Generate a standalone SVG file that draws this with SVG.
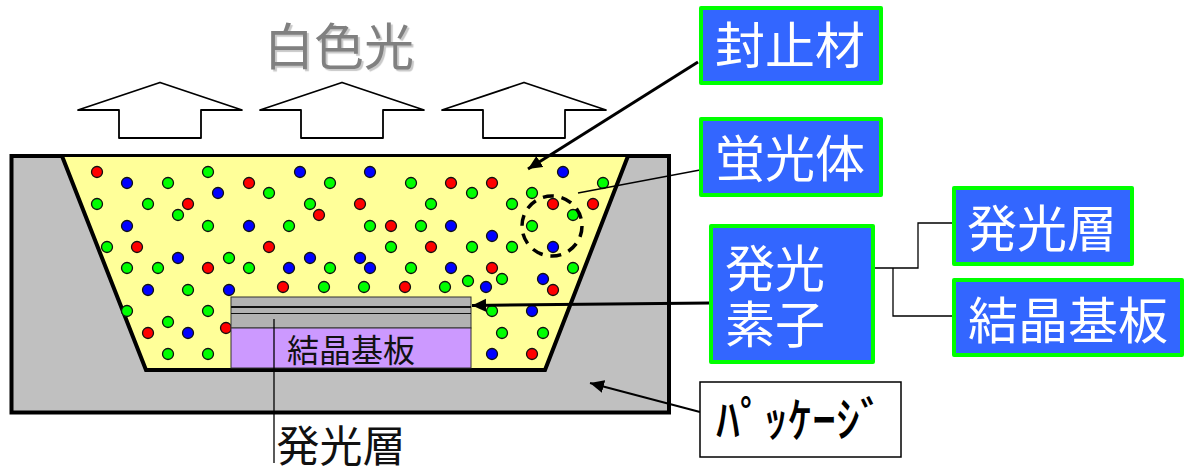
<svg xmlns="http://www.w3.org/2000/svg" width="1185" height="474" viewBox="0 0 1185 474">
<style>
text{font-family:"Noto Sans CJK JP","Noto Sans CJK SC",sans-serif}
.box{fill:#3366ff;stroke:#00ff00;stroke-width:4;stroke-linejoin:round}
.lbl{fill:#fff;font-size:50px;text-anchor:middle}
.up{fill:#fff;stroke:#000;stroke-width:1.8;stroke-linejoin:round}
.r{fill:#ff0000}.g{fill:#00ff00}.b{fill:#0000ff}
#dots circle{r:5.500px;stroke:#111;stroke-width:1.300}
.thin{fill:none;stroke:#000;stroke-width:1.300}
.thick{fill:none;stroke:#000;stroke-width:3}
</style>
<defs>
<marker id="ah" markerUnits="userSpaceOnUse" markerWidth="16" markerHeight="14" refX="14" refY="6.500" orient="auto"><path d="M0 0L14 6.500L0 13Z" fill="#000"/></marker>
<polygon id="uparrow" class="up" points="78,110 160,82.500 242,110 201,110 201,138 119,138 119,110"/>
</defs>
<g id="package">
<rect x="11.500" y="156" width="657.500" height="256.500" fill="#c0c0c0" stroke="#000" stroke-width="4"/>
<polygon points="62,157 628,157 545,370 146,370" fill="#ffff99" stroke="none"/>
<polyline points="62,156 146,370 545,370 628,156" fill="none" stroke="#000" stroke-width="4"/>
</g>
<g id="dots">
<circle class="r" cx="97" cy="172"/><circle class="b" cx="127" cy="183"/><circle class="g" cx="168" cy="183"/><circle class="g" cx="208" cy="172"/><circle class="r" cx="249" cy="183"/><circle class="b" cx="218" cy="193"/><circle class="g" cx="269" cy="193"/><circle class="b" cx="300" cy="172"/><circle class="g" cx="97" cy="204"/><circle class="g" cx="148" cy="204"/><circle class="r" cx="188" cy="204"/><circle class="g" cx="178" cy="215"/><circle class="g" cx="310" cy="204"/><circle class="r" cx="319" cy="215"/><circle class="b" cx="127" cy="226"/><circle class="g" cx="208" cy="226"/><circle class="b" cx="249" cy="226"/><circle class="g" cx="289" cy="226"/><circle class="g" cx="107" cy="247"/><circle class="r" cx="137" cy="247"/><circle class="r" cx="269" cy="247"/><circle class="b" cx="178" cy="258"/><circle class="g" cx="229" cy="258"/><circle class="b" cx="310" cy="258"/><circle class="g" cx="127" cy="268"/><circle class="g" cx="158" cy="268"/><circle class="r" cx="208" cy="268"/><circle class="g" cx="249" cy="268"/><circle class="b" cx="289" cy="268"/><circle class="b" cx="148" cy="290"/><circle class="g" cx="188" cy="290"/><circle class="b" cx="229" cy="290"/><circle class="r" cx="283" cy="287"/><circle class="g" cx="127" cy="311"/><circle class="g" cx="208" cy="311"/><circle class="g" cx="168" cy="322"/><circle class="r" cx="148" cy="333"/><circle class="b" cx="188" cy="333"/><circle class="r" cx="226" cy="328"/><circle class="g" cx="168" cy="354"/><circle class="g" cx="208" cy="354"/>
<circle class="b" cx="370" cy="172"/><circle class="g" cx="330" cy="183"/><circle class="g" cx="411" cy="183"/><circle class="r" cx="451" cy="183"/><circle class="r" cx="492" cy="183"/><circle class="g" cx="472" cy="193"/><circle class="b" cx="563" cy="172"/><circle class="g" cx="603" cy="183"/><circle class="g" cx="532" cy="193"/><circle class="r" cx="360" cy="204"/><circle class="g" cx="431" cy="204"/><circle class="g" cx="512" cy="204"/><circle class="r" cx="553" cy="204"/><circle class="r" cx="593" cy="204"/><circle class="g" cx="573" cy="215"/><circle class="g" cx="370" cy="226"/><circle class="r" cx="391" cy="226"/><circle class="g" cx="421" cy="226"/><circle class="b" cx="451" cy="226"/><circle class="g" cx="532" cy="226"/><circle class="b" cx="492" cy="236"/><circle class="g" cx="391" cy="247"/><circle class="r" cx="431" cy="247"/><circle class="g" cx="472" cy="247"/><circle class="g" cx="512" cy="247"/><circle class="b" cx="553" cy="247"/><circle class="b" cx="360" cy="258"/><circle class="g" cx="330" cy="268"/><circle class="b" cx="370" cy="268"/><circle class="g" cx="411" cy="268"/><circle class="b" cx="451" cy="268"/><circle class="r" cx="492" cy="268"/><circle class="g" cx="502" cy="279"/><circle class="g" cx="468" cy="281"/><circle class="b" cx="486" cy="287"/><circle class="g" cx="573" cy="268"/><circle class="b" cx="543" cy="279"/><circle class="r" cx="553" cy="290"/><circle class="g" cx="324" cy="287"/><circle class="g" cx="364" cy="287"/><circle class="r" cx="405" cy="287"/><circle class="g" cx="445" cy="287"/><circle class="g" cx="492" cy="311"/><circle class="b" cx="532" cy="311"/><circle class="g" cx="502" cy="333"/><circle class="g" cx="543" cy="333"/><circle class="b" cx="492" cy="354"/><circle class="r" cx="532" cy="354"/>
</g>
<circle id="dashed-circle" cx="552" cy="226" r="30" fill="none" stroke="#000" stroke-width="3.500" stroke-dasharray="11 7.850"/>
<g id="chip">
<rect x="231" y="297" width="240" height="31" fill="#b2b2b2" stroke="#333" stroke-width="1"/>
<rect x="231" y="328" width="240" height="40" fill="#cc99ff" stroke="#333" stroke-width="1"/>
<line x1="231" y1="307" x2="471" y2="307" stroke="#111" stroke-width="1.800"/>
<line x1="231" y1="313.500" x2="471" y2="313.500" stroke="#111" stroke-width="1.200"/>
<text x="351" y="362" font-size="32" text-anchor="middle" fill="#111">結晶基板</text>
</g>
<g id="arrows-up"><use href="#uparrow"/><use href="#uparrow" x="182"/><use href="#uparrow" x="364"/></g>
<text id="white-light" x="339" y="64.500" font-size="50" text-anchor="middle" fill="#808080" style="text-shadow:2px 2px 1px #c8c8c8">白色光</text>
<g id="connectors">
<line class="thick" x1="698" y1="62" x2="528" y2="169" marker-end="url(#ah)"/>
<line class="thin" x1="578" y1="193" x2="700" y2="170"/>
<line class="thick" x1="710" y1="303" x2="472" y2="305.500" marker-end="url(#ah)"/>
<line class="thick" x1="700" y1="412" x2="590" y2="383" style="stroke-width:2" marker-end="url(#ah)"/>
<polyline class="thin" points="875,268 918,268 918,223 953,223"/>
<polyline class="thin" points="893,268 893,316 952,316"/>
<line class="thin" x1="274" y1="319" x2="274" y2="463"/>
</g>
<text id="emit-layer-label" x="341" y="461.500" font-size="43" text-anchor="middle" fill="#111">発光層</text>
<g id="n-seal"><rect class="box" x="701" y="8" width="180" height="75"/><text class="lbl" x="790" y="64">封止材</text></g>
<g id="n-phosphor"><rect class="box" x="701" y="119" width="180" height="76"/><text class="lbl" x="790" y="177">蛍光体</text></g>
<g id="n-led"><rect class="box" x="711" y="226" width="162" height="136"/><text class="lbl"><tspan x="775" y="287">発光</tspan><tspan x="775" y="343">素子</tspan></text></g>
<g id="n-layer"><rect class="box" x="954" y="188" width="178" height="76"/><text class="lbl" x="1042" y="247">発光層</text></g>
<g id="n-substrate"><rect class="box" x="954" y="280" width="228" height="75"/><text class="lbl" x="1068" y="339">結晶基板</text></g>
<g id="n-package"><rect x="700" y="382" width="201" height="75" fill="#fff" stroke="#000" stroke-width="1.500"/><text x="800" y="437" font-size="48" text-anchor="middle" fill="#000" font-weight="500">ﾊﾟｯｹｰｼﾞ</text></g>
</svg>
